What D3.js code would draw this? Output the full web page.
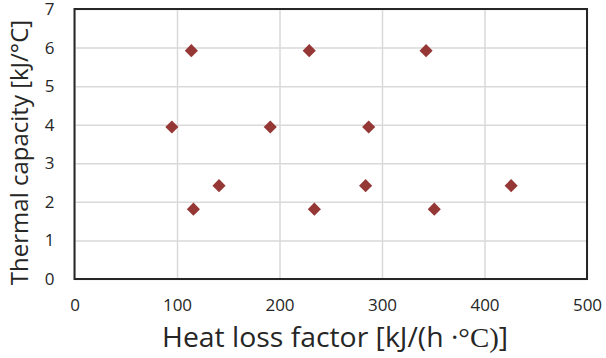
<!DOCTYPE html>
<html>
<head>
<meta charset="utf-8">
<script src="https://cdn.jsdelivr.net/npm/d3@7"></script>
<style>
  html, body { margin: 0; padding: 0; background: #fff; }
  svg { display: block; }
  text { font-family: "Open Sans", "Noto Sans", sans-serif; }
</style>
</head>
<body>
<svg id="chart" width="606" height="358"></svg>
<script>
// Heat loss factor [kJ/(h·°C)] vs thermal capacity [kJ/°C]
const heatLoss = [114, 229, 343, 95, 191, 287, 141, 284, 426, 116, 234, 351];
const thermalCap = [5.92, 5.92, 5.92, 3.94, 3.94, 3.94, 2.42, 2.42, 2.42, 1.81, 1.81, 1.81];
const xTicks = [0, 100, 200, 300, 400, 500];
const yTicks = [0, 1, 2, 3, 4, 5, 6, 7];

const svg = d3.select("#chart");
const margin = { left: 74.5, right: 19, top: 9, bottom: 79 };
const W = 606, H = 358;

const x = d3.scaleLinear().domain([0, 500]).range([margin.left, W - margin.right]);
const y = d3.scaleLinear().domain([0, 7]).range([H - margin.bottom, margin.top]);

// gridlines
svg.append("g")
  .attr("transform", `translate(0,${y(0)})`)
  .call(d3.axisBottom(x).tickValues(xTicks).tickSize(-(y(0) - y(7))).tickFormat(""))
  .call(g => g.select(".domain").remove())
  .call(g => g.selectAll("line").attr("stroke", "#d9d9d9").attr("stroke-width", 1.5));

svg.append("g")
  .attr("transform", `translate(${x(0)},0)`)
  .call(d3.axisLeft(y).tickValues(yTicks).tickSize(-(x(500) - x(0))).tickFormat(""))
  .call(g => g.select(".domain").remove())
  .call(g => g.selectAll("line").attr("stroke", "#d9d9d9").attr("stroke-width", 1.5));

// plot frame
svg.append("rect")
  .attr("x", x(0)).attr("y", y(7))
  .attr("width", x(500) - x(0)).attr("height", y(0) - y(7))
  .attr("fill", "none").attr("stroke", "#262626").attr("stroke-width", 2);

// tick labels
svg.append("g")
  .attr("transform", `translate(0,${y(0) + 19.5})`)
  .call(d3.axisBottom(x).tickValues(xTicks).tickSize(0).tickPadding(0).tickFormat(d3.format("d")))
  .call(g => g.select(".domain").remove())
  .call(g => g.selectAll("text")
    .attr("font-size", 17).attr("fill", "#262626")
    .style("font-family", "'Open Sans', sans-serif"));

svg.append("g")
  .attr("transform", `translate(${x(0) - 20},0)`)
  .call(d3.axisLeft(y).tickValues(yTicks).tickSize(0).tickPadding(0).tickFormat(d3.format("d")))
  .call(g => g.select(".domain").remove())
  .call(g => g.selectAll("text")
    .attr("font-size", 17).attr("fill", "#262626")
    .style("font-family", "'Open Sans', sans-serif"));

// data markers
const diamond = d3.symbol().type(d3.symbolDiamond2).size(110);
svg.append("g")
  .selectAll("path")
  .data(heatLoss.map((h, i) => [h, thermalCap[i]]))
  .join("path")
  .attr("d", diamond)
  .attr("transform", d => `translate(${x(d[0])},${y(d[1])})`)
  .attr("fill", "#953735");

// axis titles
const xt = svg.append("text")
  .attr("transform", "translate(162,347) scale(1.07,1)")
  .attr("text-anchor", "start")
  .attr("font-size", 26.5).attr("fill", "#262626");
xt.append("tspan").text("Heat loss factor [kJ/(h ·");
xt.append("tspan").style("font-family", "'Liberation Serif', serif").attr("font-size", 27).text("°C)");
xt.append("tspan").text("]");

svg.append("text")
  .attr("transform", `translate(28,152.5) rotate(-90)`)
  .attr("text-anchor", "middle")
  .attr("font-size", 24).attr("fill", "#262626")
  .text("Thermal capacity [kJ/°C]");
</script>
</body>
</html>
